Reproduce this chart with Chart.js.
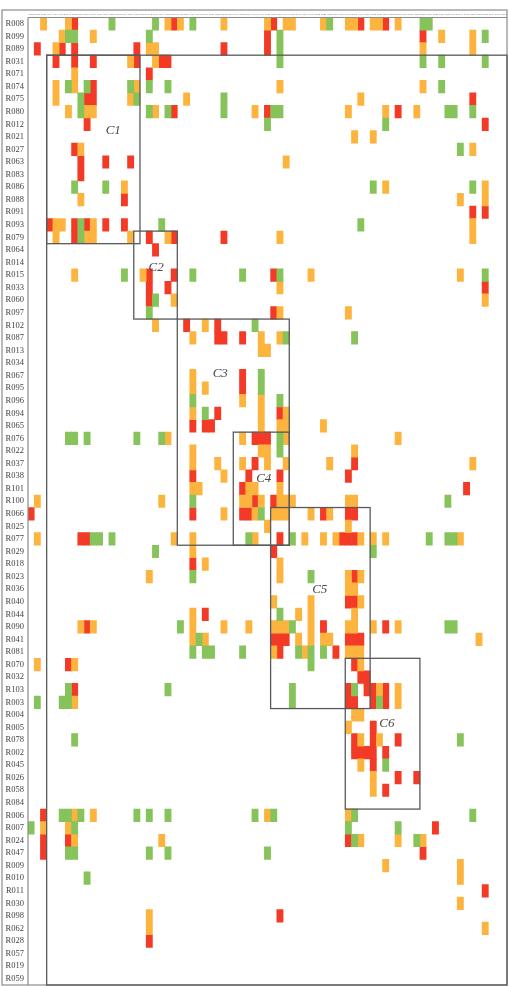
<!DOCTYPE html>
<html lang="en">
<head>
<meta charset="UTF-8">
<title>Cluster matrix</title>
<style>
    html, body { margin: 0; padding: 0; background: #ffffff; }
    #wrap { position: relative; width: 509px; height: 986px; }
</style>
<script src="https://cdn.jsdelivr.net/npm/chart.js"></script>
</head>
<body>
<div id="wrap"><canvas id="matrix"></canvas></div>
<script>
    // rows (and columns, same order)
    const rowLabels = [
        'R008','R099','R089','R031','R071','R074','R075','R080','R012','R021',
        'R027','R063','R083','R086','R088','R091','R093','R079','R064','R014',
        'R015','R033','R060','R097','R102','R087','R013','R034','R067','R095',
        'R096','R094','R065','R076','R022','R037','R038','R101','R100','R066',
        'R025','R077','R029','R018','R023','R036','R040','R044','R090','R041',
        'R081','R070','R032','R103','R003','R004','R005','R078','R002','R045',
        'R026','R058','R084','R006','R007','R024','R047','R009','R010','R011',
        'R030','R098','R062','R028','R057','R019','R059'
    ];
    const colLabels = rowLabels;

    // g = low, o = medium, r = high
    const levelKeys = ['g', 'o', 'r'];
    const levelColors = ['#86c35a', '#fcb43f', '#f33a26'];

    // one string per row: level letter + column number (1-based)
    const rowCells = [
        'o3 o7 r8 g14 g21 o23 r24 o25 g27 o32 o39 r40 o42 o43 o48 g49 o52 o53 r54 o56 o57 r58 o60 g64 g65',
        'o6 g7 g8 o11 g20 r39 g41 r64 o67 o72 g74',
        'r2 o5 r6 r8 r18 o20 o21 r32 r39 g41 o64 o72',
        'r5 r8 r11 o17 r18 o21 r22 r23 g41 g64 g67 g74',
        'o8 r20',
        'o5 g7 o8 g10 r11 g17 o18 g20 g23 o41 o64 g67',
        'o5 g9 r10 r11 o17 g18 o26 g32 o54 r72',
        'o7 g9 o10 o11 g20 o21 g23 r24 g32 o37 r39 g40 g41 o52 o58 r60 o63 g68 g69 g72',
        'r10 g39 g58 r74',
        'o53 o56',
        'r8 o9 g70 o72',
        'r9 r13 r17 o42',
        'r9',
        'g8 g13 o16 g56 o58 g72 o74',
        'o9 r16 o70 o74',
        'r72 r74',
        'r4 o5 o6 r8 g9 r10 o11 r13 r16 g22 g54 o72',
        'o5 r8 g9 o10 o11 o17 r20 o23 r24 r32 o41 o72',
        'r21',
        '',
        'o8 g16 o19 r20 r24 g27 g35 r40 g41 o46 o70 g74',
        'r20 r23 o41 r74',
        'r20 g21 o24 o74',
        'g20 r40 o41 o52',
        'o21 r26 o29 r31 g37',
        'o27 r31 r32 r35 o38 o41 g42 g53',
        'o38 o39',
        '',
        'o27 r35 g38',
        'o27 o29 r35 g38',
        'g27 o35 o38 g41',
        'o27 g29 r31 o38 r41 o42',
        'r27 r29 r30 o38 o41 o42 o48',
        'g7 g8 g10 g18 g22 o23 o35 r37 r38 r39 g41 o42 o60',
        'o27 o38 o39 g41 o53',
        'o27 o31 o35 r37 o39 o42 o49 r53 o72',
        'r27 o32 r36 r41 r52',
        'o27 o28 r35 o36 o37 o41 r71',
        'o2 o22 g27 o35 o36 r37 o38 r40 o41 o42 o43 o52 o53 g68',
        'r1 r27 o32 r35 r36 o37 g38 o40 o41 o42 o46 r48 o49 r52 r53',
        'o39 o52',
        'o2 r9 r10 g11 g12 g14 o24 o27 g36 o37 r41 g43 o45 o48 o50 r51 r52 r53 o54 o56 o58 g65 g68 g69 o70',
        'g21 o27 r40 g56',
        'r27 o29 o41',
        'o20 g27 o41 g46 o52 r53 o54',
        'o52 o53',
        'o40 o46 r52 r53 o54',
        'o27 r29 g41 o44 o46 o53',
        'o9 r10 o11 g25 o27 o32 o36 o40 o41 o42 g43 o46 r48 o52 o53 o56 r58 o60 g68 g69',
        'o27 g28 o29 r40 r41 r42 o44 o46 o48 o49 r52 r53 r54 o73',
        'g27 g29 g30 g35 o40 r41 g44 o45 g46 g48 r50 o52 o53 o54',
        'o2 r7 o8 g46 r53 o54',
        'r54 r55',
        'g7 r8 g23 g43 r52 g53 r55 r56 o57 r58 o60',
        'g2 g6 g7 o8 g43 r52 r53 r56 g57 r58 o60',
        'o53 o54',
        'o52 r56',
        'g8 r53 o54 r56 o57 r60 g70',
        'r53 r54 r55 r56 r58',
        'o54 r56 g58',
        'o56 r60 r63',
        'o56 r58',
        '',
        'r3 g6 g7 o8 g9 o11 g18 g20 g23 g37 o39 g40 o52 g53 g72',
        'g1 o3 o7 g8 g52 g60 r66',
        'r3 r7 o8 o22 r52 g53 o54 o60 g63 o64',
        'r3 g7 g8 g20 g23 g39 r64',
        'o58 o70',
        'g10 o70',
        'r74',
        'o70',
        'o20 r41',
        'o20 o74',
        'r20',
        '',
        '',
        ''
    ];

    // clusters on the diagonal (first / last row-column, 1-based)
    const clusterNames = ['C1', 'C2', 'C3', 'C4', 'C5', 'C6', ''];
    const clusterFrom = [4, 18, 25, 34, 40, 52, 4];
    const clusterTo = [18, 24, 42, 42, 55, 63, 77];
    // where each cluster name sits, in column / row units from the top-left corner
    const labelCol = [13.7, 20.6, 30.9, 37.9, 46.9, 57.7];
    const labelRow = [9.0, 19.9, 28.3, 36.7, 45.5, 56.2];

    // build one floating-bar dataset per level
    const datasets = levelKeys.map((key, k) => ({
        label: key,
        data: [],
        backgroundColor: levelColors[k],
        borderWidth: 0,
        barPercentage: 1,
        categoryPercentage: 1,
        grouped: false
    }));
    rowCells.forEach((line, r) => {
        line.split(' ').filter(Boolean).forEach(tok => {
            const k = levelKeys.indexOf(tok[0]);
            const c = Number(tok.slice(1));
            datasets[k].data.push({ y: rowLabels[r], x: [c - 1, c] });
        });
    });

    // frame, cluster boxes and names
    const framePlugin = {
        id: 'frame',
        afterDraw(chart) {
            const { ctx, chartArea: a, scales: { x, y } } = chart;
            const colPx = c => x.getPixelForValue(c);
            const rowPx = r => y.getPixelForValue(r - 0.5);
            ctx.save();
            ctx.strokeStyle = '#8c8c8c';
            ctx.lineWidth = 1.2;
            ctx.strokeRect(y.left, x.top, a.right - y.left, a.bottom - x.top);
            ctx.beginPath();
            ctx.moveTo(a.left, a.top); ctx.lineTo(a.right, a.top);
            ctx.moveTo(a.left, a.top); ctx.lineTo(a.left, a.bottom);
            ctx.stroke();

            ctx.strokeStyle = '#5a5a5a';
            ctx.lineWidth = 1.3;
            clusterFrom.forEach((f, i) => {
                const t = clusterTo[i];
                const x0 = colPx(f - 1), x1 = colPx(t);
                const y0 = rowPx(f - 1), y1 = rowPx(t);
                ctx.strokeRect(x0, y0, x1 - x0, y1 - y0);
            });

            ctx.fillStyle = '#4a4a4a';
            ctx.font = 'italic 13px "Liberation Serif"';
            ctx.textAlign = 'center';
            ctx.textBaseline = 'middle';
            labelCol.forEach((c, i) => {
                ctx.fillText(clusterNames[i], colPx(c), rowPx(labelRow[i]));
            });
            ctx.restore();
        }
    };

    new Chart(document.getElementById('matrix'), {
        type: 'bar',
        data: { labels: rowLabels, datasets },
        options: {
            indexAxis: 'y',
            responsive: true,
            maintainAspectRatio: false,
            animation: false,
            layout: { padding: { left: 2, right: 2, top: 10, bottom: 1 } },
            plugins: { legend: { display: false }, tooltip: { enabled: false } },
            scales: {
                x: {
                    type: 'linear',
                    position: 'top',
                    min: 0,
                    max: 77,
                    grid: { display: false, drawTicks: false },
                    border: { display: false },
                    afterBuildTicks: s => { s.ticks = colLabels.map((l, i) => ({ value: i + 0.5 })); },
                    afterFit: s => { s.height = 7.5; s.paddingLeft = 0; s.paddingRight = 0; },
                    ticks: {
                        autoSkip: false,
                        maxRotation: 0,
                        minRotation: 0,
                        padding: 1.5,
                        color: '#777',
                        font: { size: 2.6, family: 'Liberation Serif' },
                        callback: (v, i) => colLabels[i]
                    }
                },
                y: {
                    type: 'category',
                    grid: { display: false, drawTicks: false },
                    border: { display: false },
                    afterFit: s => { s.width = 26; s.paddingTop = 0; s.paddingBottom = 0; },
                    ticks: {
                        autoSkip: false,
                        padding: 4,
                        color: '#444',
                        font: { size: 8.5, family: 'Liberation Serif' }
                    }
                }
            }
        },
        plugins: [framePlugin]
    });
</script>
</body>
</html>
